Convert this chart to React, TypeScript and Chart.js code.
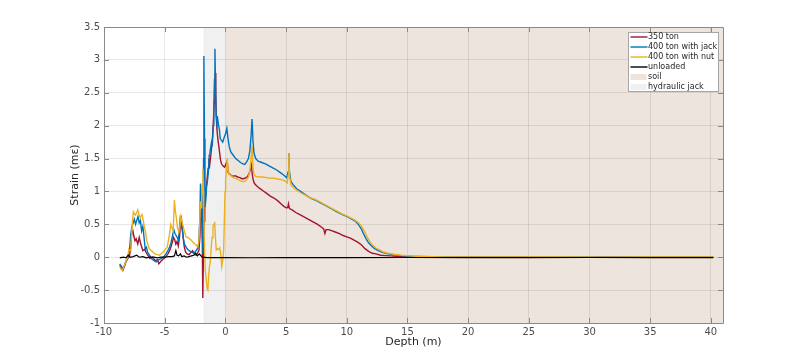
import React, { useEffect, useRef } from 'react';
import { Chart, registerables } from 'chart.js';
Chart.register(...registerables);

const xTickValues = [-10, -5, 0, 5, 10, 15, 20, 25, 30, 35, 40];
const yTickValues = [-1, -0.5, 0, 0.5, 1, 1.5, 2, 2.5, 3, 3.5];

const seriesLabels = ['350 ton', '400 ton with jack', '400 ton with nut', 'unloaded'];
const regionLabels = ['soil', 'hydraulic jack'];
const jackRange = [-1.8, 0];
const soilRange = [0, 41];

const depth350 = [-8.7, -8.55, -8.45, -8.3, -8.2, -8.05, -7.9, -7.8, -7.72, -7.62, -7.55, -7.45, -7.35, -7.22, -7.1, -7.0, -6.92, -6.8, -6.65, -6.5, -6.35, -6.2, -6.0, -5.8, -5.6, -5.48, -5.3, -5.15, -5.0, -4.85, -4.7, -4.6, -4.48, -4.37, -4.27, -4.18, -4.08, -3.98, -3.88, -3.78, -3.7, -3.62, -3.54, -3.45, -3.38, -3.28, -3.15, -3.0, -2.85, -2.7, -2.55, -2.4, -2.28, -2.18, -2.1, -2.05, -2.0, -1.95, -1.9, -1.86, -1.82, -1.76, -1.7, -1.64, -1.58, -1.5, -1.42, -1.35, -1.28, -1.2, -1.12, -1.05, -0.98, -0.92, -0.87, -0.83, -0.79, -0.74, -0.69, -0.62, -0.55, -0.48, -0.4, -0.32, -0.24, -0.15, -0.06, 0.05, 0.15, 0.22, 0.3, 0.45, 0.6, 0.8, 1.0, 1.2, 1.4, 1.6, 1.8, 1.95, 2.05, 2.15, 2.22, 2.3, 2.4, 2.55, 2.8, 3.1, 3.4, 3.7, 4.0, 4.3, 4.6, 4.85, 5.05, 5.15, 5.2, 5.28, 5.5, 5.8, 6.1, 6.4, 6.7, 7.0, 7.3, 7.6, 7.9, 8.1, 8.2, 8.3, 8.5, 8.8, 9.1, 9.4, 9.7, 10.0, 10.3, 10.6, 10.9, 11.2, 11.5, 11.8, 12.1, 12.4, 12.8, 13.2, 13.6, 14, 15, 16, 18, 20, 22, 25, 28, 31, 34, 37, 40.2];
const strain350 = [-0.12, -0.17, -0.2, -0.13, -0.07, -0.02, 0.02, 0.15, 0.36, 0.4, 0.33, 0.25, 0.28, 0.2, 0.3, 0.22, 0.17, 0.1, 0.12, 0.06, 0.02, -0.02, 0.0, -0.05, -0.04, -0.1, -0.06, -0.03, -0.01, 0.02, 0.06, 0.1, 0.16, 0.23, 0.3, 0.27, 0.2, 0.24, 0.17, 0.3, 0.5, 0.58, 0.45, 0.25, 0.15, 0.08, 0.05, 0.04, 0.07, 0.1, 0.05, 0.03, 0.07, 0.1, 0.3, 0.6, 0.85, 0.7, 0.2, -0.62, -0.1, 0.55, 0.82, 0.9, 1.05, 1.2, 1.35, 1.5, 1.42, 1.55, 1.7, 1.85, 2.1, 2.35, 2.6, 2.8, 2.45, 2.1, 1.93, 1.8, 1.7, 1.6, 1.48, 1.42, 1.4, 1.38, 1.37, 1.42, 1.46, 1.3, 1.27, 1.25, 1.23, 1.24, 1.22, 1.21, 1.19, 1.2, 1.22, 1.27, 1.32, 1.4, 1.25, 1.17, 1.12, 1.09, 1.05, 1.01, 0.97, 0.93, 0.9, 0.86, 0.81, 0.77, 0.75, 0.76, 0.81, 0.74, 0.72, 0.68, 0.65, 0.62, 0.59, 0.56, 0.53, 0.5, 0.46, 0.43, 0.36, 0.42, 0.42, 0.4, 0.38, 0.36, 0.33, 0.31, 0.29, 0.26, 0.23, 0.19, 0.13, 0.09, 0.06, 0.05, 0.03, 0.025, 0.02, 0.015, 0.01, 0.005, 0.0, 0.003, 0.0, 0.002, -0.002, 0.0, 0.002, 0.0, 0.0];

const depth400jack = [-8.7, -8.55, -8.45, -8.3, -8.15, -8.05, -7.9, -7.79, -7.7, -7.6, -7.5, -7.4, -7.3, -7.2, -7.1, -7.0, -6.9, -6.8, -6.7, -6.6, -6.5, -6.4, -6.27, -6.1, -5.9, -5.7, -5.5, -5.3, -5.1, -4.9, -4.74, -4.6, -4.48, -4.35, -4.25, -4.15, -4.06, -3.97, -3.87, -3.8, -3.73, -3.65, -3.56, -3.48, -3.37, -3.2, -3.0, -2.8, -2.6, -2.45, -2.3, -2.2, -2.1, -2.05, -2.0, -1.95, -1.9, -1.85, -1.8, -1.77, -1.72, -1.68, -1.62, -1.55, -1.47, -1.4, -1.33, -1.27, -1.2, -1.14, -1.07, -1.0, -0.95, -0.9, -0.86, -0.81, -0.76, -0.7, -0.63, -0.56, -0.5, -0.42, -0.33, -0.22, -0.1, 0.02, 0.12, 0.22, 0.32, 0.45, 0.65, 0.85, 1.05, 1.25, 1.45, 1.6, 1.75, 1.9, 2.02, 2.12, 2.2, 2.28, 2.36, 2.5, 2.7, 3.0, 3.3, 3.6, 3.9, 4.2, 4.5, 4.8, 5.05, 5.18, 5.23, 5.28, 5.4, 5.6, 5.87, 6.2, 6.6, 7.0, 7.4, 7.8, 8.2, 8.5, 8.8, 9.2, 9.6, 10.0, 10.4, 10.7, 10.95, 11.2, 11.4, 11.6, 11.8, 12.05, 12.3, 12.6, 13.0, 13.4, 13.9, 14.5, 15.2, 16, 18, 20, 22, 25, 28, 31, 34, 37, 40.2];
const strain400jack = [-0.1, -0.15, -0.17, -0.12, -0.05, -0.01, 0.1, 0.35, 0.47, 0.52, 0.58, 0.5, 0.56, 0.62, 0.52, 0.56, 0.4, 0.47, 0.3, 0.12, 0.15, 0.07, 0.04, -0.02, -0.05, -0.07, -0.04, -0.02, 0.0, 0.05, 0.1, 0.15, 0.22, 0.33, 0.42, 0.36, 0.33, 0.3, 0.26, 0.4, 0.57, 0.5, 0.42, 0.3, 0.2, 0.14, 0.1, 0.08, 0.06, 0.09, 0.13, 0.2, 0.6, 1.12, 0.95, 0.77, 0.5, 0.05, 1.5, 3.06, 1.8, 0.76, 0.85, 1.07, 1.17, 1.3, 1.55, 1.6, 1.68, 1.75, 1.72, 2.0, 2.35, 2.7, 3.17, 2.6, 2.15, 2.05, 2.1, 2.0, 1.95, 1.8, 1.78, 1.75, 1.82, 1.88, 1.96, 1.8, 1.68, 1.6, 1.55, 1.5, 1.47, 1.44, 1.42, 1.41, 1.45, 1.5, 1.62, 1.85, 2.1, 1.75, 1.58, 1.5, 1.46, 1.44, 1.42, 1.39, 1.36, 1.33, 1.29, 1.25, 1.21, 1.3, 1.58, 1.3, 1.15, 1.1, 1.04, 1.0, 0.95, 0.9, 0.87, 0.83, 0.79, 0.76, 0.73, 0.69, 0.65, 0.62, 0.58, 0.55, 0.5, 0.43, 0.35, 0.28, 0.22, 0.17, 0.13, 0.1, 0.07, 0.05, 0.035, 0.025, 0.015, 0.01, 0.005, 0.003, 0.005, 0.002, 0.004, 0.001, 0.003, 0.002, 0.003];

const depth400nut = [-8.7, -8.6, -8.5, -8.4, -8.3, -8.15, -8.05, -7.95, -7.85, -7.78, -7.72, -7.65, -7.58, -7.5, -7.41, -7.3, -7.22, -7.12, -7.02, -6.94, -6.86, -6.76, -6.67, -6.58, -6.48, -6.36, -6.26, -6.1, -5.98, -5.8, -5.6, -5.43, -5.25, -5.1, -4.95, -4.8, -4.7, -4.6, -4.5, -4.4, -4.3, -4.2, -4.12, -4.04, -3.95, -3.84, -3.76, -3.67, -3.58, -3.48, -3.38, -3.25, -3.1, -2.95, -2.82, -2.68, -2.54, -2.4, -2.27, -2.18, -2.12, -2.06, -2.0, -1.95, -1.9, -1.85, -1.8, -1.74, -1.66, -1.57, -1.5, -1.44, -1.38, -1.32, -1.25, -1.18, -1.1, -1.02, -0.95, -0.88, -0.82, -0.75, -0.65, -0.55, -0.47, -0.38, -0.3, -0.22, -0.14, -0.08, -0.03, 0.02, 0.1, 0.15, 0.22, 0.3, 0.45, 0.65, 0.85, 1.05, 1.25, 1.45, 1.6, 1.75, 1.9, 2.02, 2.12, 2.2, 2.28, 2.36, 2.5, 2.8, 3.1, 3.4, 3.7, 4.0, 4.3, 4.6, 4.9, 5.1, 5.18, 5.23, 5.28, 5.4, 5.6, 5.87, 6.2, 6.6, 7.0, 7.4, 7.8, 8.2, 8.5, 8.8, 9.2, 9.6, 10.0, 10.4, 10.7, 11.0, 11.25, 11.5, 11.7, 11.9, 12.15, 12.4, 12.7, 13.0, 13.4, 13.9, 14.5, 15.2, 16, 18, 20, 22, 25, 28, 31, 34, 37, 40.2];
const strain400nut = [-0.15, -0.18, -0.2, -0.16, -0.11, -0.04, 0.0, 0.12, 0.1, 0.2, 0.36, 0.55, 0.69, 0.66, 0.64, 0.68, 0.72, 0.65, 0.6, 0.63, 0.65, 0.55, 0.46, 0.38, 0.26, 0.18, 0.13, 0.1, 0.08, 0.05, 0.04, 0.03, 0.06, 0.08, 0.12, 0.15, 0.25, 0.35, 0.5, 0.45, 0.4, 0.87, 0.7, 0.6, 0.45, 0.38, 0.45, 0.62, 0.55, 0.47, 0.4, 0.31, 0.3, 0.28, 0.26, 0.23, 0.21, 0.18, 0.16, 0.25, 0.47, 0.85, 0.75, 0.9, 1.1, 1.35, 1.0, 0.3, -0.2, -0.34, -0.48, -0.5, -0.3, -0.15, -0.09, 0.1, 0.3, 0.47, 0.5, 0.52, 0.3, 0.11, 0.13, 0.12, 0.14, 0.05, -0.14, -0.05, 0.11, 0.6, 1.0, 1.18, 1.35, 1.5, 1.32, 1.27, 1.24, 1.21, 1.2, 1.18, 1.16, 1.15, 1.15, 1.18, 1.22, 1.32, 1.5, 1.7, 1.35, 1.26, 1.23, 1.22, 1.22, 1.21, 1.2, 1.2, 1.19, 1.18, 1.16, 1.13, 1.25, 1.58, 1.25, 1.1, 1.06, 1.02, 0.98, 0.94, 0.9, 0.88, 0.84, 0.8, 0.77, 0.74, 0.7, 0.66, 0.63, 0.59, 0.56, 0.52, 0.46, 0.38, 0.3, 0.24, 0.18, 0.14, 0.11, 0.08, 0.06, 0.045, 0.03, 0.02, 0.012, 0.006, 0.004, 0.006, 0.003, 0.005, 0.002, 0.004, 0.003, 0.004];

const depthUnloaded = [-8.7, -8.4, -8.2, -8.0, -7.85, -7.6, -7.3, -7.1, -6.8, -6.5, -6.2, -5.9, -5.6, -5.3, -5.0, -4.7, -4.4, -4.2, -4.08, -3.98, -3.85, -3.7, -3.6, -3.4, -3.2, -3.0, -2.8, -2.6, -2.45, -2.3, -2.15, -2.05, -1.9, -1.5, 0, 2, 5, 10, 15, 20, 25, 30, 35, 40.2];
const strainUnloaded = [-0.01, 0.0, -0.01, 0.03, 0.0, 0.01, 0.03, 0.0, 0.01, -0.01, 0.0, 0.0, -0.01, 0.0, 0.0, 0.01, 0.01, 0.02, 0.1, 0.03, 0.02, 0.05, 0.01, 0.02, 0.0, 0.01, 0.02, 0.03, 0.06, 0.02, 0.05, 0.03, 0.0, -0.005, -0.005, -0.008, -0.005, -0.006, -0.004, -0.005, -0.006, -0.004, -0.005, -0.005];

const colors = ['#A2142F', '#0072BD', '#EDB120', '#000000'];
const soilColor = '#ede5dd';
const jackColor = '#f0f0f1';
const FONT = 'DejaVu Sans';

function pts(xs: number[], ys: number[]) {
  return xs.map((x, i) => ({ x, y: ys[i] }));
}

const regionPlugin = {
  id: 'regions',
  beforeDraw(chart: any) {
    const { ctx, chartArea, scales } = chart;
    const x = scales.x;
    ctx.save();
    const jx0 = x.getPixelForValue(jackRange[0]);
    const jx1 = x.getPixelForValue(jackRange[1]);
    ctx.fillStyle = jackColor;
    ctx.fillRect(jx0, chartArea.top, jx1 - jx0, chartArea.bottom - chartArea.top);
    const sx0 = x.getPixelForValue(soilRange[0]);
    const sx1 = Math.min(x.getPixelForValue(soilRange[1]), chartArea.right);
    ctx.fillStyle = soilColor;
    ctx.fillRect(sx0, chartArea.top, sx1 - sx0, chartArea.bottom - chartArea.top);
    ctx.restore();
  },
};

const framePlugin = {
  id: 'frame',
  afterDraw(chart: any) {
    const { ctx, chartArea, scales } = chart;
    const { left, right, top, bottom } = chartArea;
    ctx.save();
    ctx.strokeStyle = '#8a8a8a';
    ctx.lineWidth = 1;
    ctx.beginPath();
    ctx.rect(Math.round(left) + 0.5, Math.round(top) + 0.5, Math.round(right - left), Math.round(bottom - top));
    ctx.stroke();
    const tl = 5;
    ctx.beginPath();
    xTickValues.forEach((v) => {
      const px = Math.round(scales.x.getPixelForValue(v)) + 0.5;
      ctx.moveTo(px, bottom);
      ctx.lineTo(px, bottom - tl);
      ctx.moveTo(px, top);
      ctx.lineTo(px, top + tl);
    });
    yTickValues.forEach((v) => {
      const py = Math.round(scales.y.getPixelForValue(v)) + 0.5;
      ctx.moveTo(left, py);
      ctx.lineTo(left + tl, py);
      ctx.moveTo(right, py);
      ctx.lineTo(right - tl, py);
    });
    ctx.stroke();

    // legend
    const bx = Math.round(right) - 94.5;
    const by = Math.round(top) + 5.5;
    const bw = 90;
    const bh = 59;
    ctx.fillStyle = '#ffffff';
    ctx.fillRect(bx, by, bw, bh);
    ctx.strokeStyle = '#a6a6a6';
    ctx.strokeRect(bx, by, bw, bh);
    ctx.font = `8px "${FONT}"`;
    ctx.textBaseline = 'middle';
    ctx.textAlign = 'left';
    const rowH = 10;
    seriesLabels.forEach((lab, i) => {
      const cy = by + 4.5 + i * rowH;
      ctx.strokeStyle = colors[i];
      ctx.lineWidth = 1.4;
      ctx.beginPath();
      ctx.moveTo(bx + 2, cy);
      ctx.lineTo(bx + 19, cy);
      ctx.stroke();
      ctx.fillStyle = '#262626';
      ctx.fillText(lab, bx + 19.5, cy);
    });
    const patchColors = [soilColor, jackColor];
    regionLabels.forEach((lab, j) => {
      const cy = by + 4.5 + (4 + j) * rowH;
      ctx.fillStyle = patchColors[j];
      ctx.fillRect(bx + 2, cy - 3, 16, 6);
      ctx.fillStyle = '#262626';
      ctx.fillText(lab, bx + 19.5, cy);
    });
    ctx.restore();
  },
};

export default function App() {
  const ref = useRef<HTMLCanvasElement>(null);
  useEffect(() => {
    document.body.style.margin = '0';
    const canvas = ref.current;
    if (!canvas) return;
    const mk = (label: string, xs: number[], ys: number[], color: string, order: number, width: number) => ({
      label,
      data: pts(xs, ys),
      borderColor: color,
      backgroundColor: color,
      borderWidth: width,
      pointRadius: 0,
      pointHoverRadius: 0,
      tension: 0,
      fill: false,
      order,
    });
    const chart = new Chart(canvas, {
      type: 'line',
      data: {
        datasets: [
          mk(seriesLabels[0], depth350, strain350, colors[0], 4, 1.4),
          mk(seriesLabels[1], depth400jack, strain400jack, colors[1], 3, 1.4),
          mk(seriesLabels[2], depth400nut, strain400nut, colors[2], 2, 1.4),
          mk(seriesLabels[3], depthUnloaded, strainUnloaded, colors[3], 1, 1.2),
        ],
      },
      options: {
        responsive: false,
        animation: false,
        events: [],
        layout: { padding: { left: 0, top: 27, right: 77, bottom: 0 } },
        scales: {
          x: {
            type: 'linear',
            min: -10,
            max: 41,
            afterBuildTicks: (s: any) => {
              s.ticks = xTickValues.map((v) => ({ value: v }));
            },
            afterFit: (s: any) => {
              s.height = 40;
            },
            ticks: {
              padding: 3,
              color: '#4d4d4d',
              font: { family: FONT, size: 10 },
              maxRotation: 0,
              autoSkip: false,
              callback: (v: any) => String(v),
            },
            grid: { color: 'rgba(38,38,38,0.11)', drawTicks: false },
            border: { display: false },
            title: {
              display: true,
              text: 'Depth (m)',
              color: '#262626',
              font: { family: FONT, size: 11 },
              padding: { top: 0, bottom: 14 },
            },
          },
          y: {
            type: 'linear',
            min: -1,
            max: 3.5,
            afterBuildTicks: (s: any) => {
              s.ticks = yTickValues.map((v) => ({ value: v }));
            },
            afterFit: (s: any) => {
              s.width = 104;
            },
            ticks: {
              padding: 4,
              color: '#4d4d4d',
              font: { family: FONT, size: 10 },
              autoSkip: false,
              callback: (v: any) => String(v),
            },
            grid: { color: 'rgba(38,38,38,0.11)', drawTicks: false },
            border: { display: false },
            title: {
              display: true,
              text: 'Strain (mε)',
              color: '#262626',
              font: { family: FONT, size: 11 },
              padding: { top: 69, bottom: 0 },
            },
          },
        },
        plugins: {
          legend: { display: false },
          tooltip: { enabled: false },
        },
      },
      plugins: [regionPlugin, framePlugin],
    } as any);
    return () => chart.destroy();
  }, []);
  return <canvas ref={ref} width={800} height={363} style={{ display: 'block' }} />;
}
